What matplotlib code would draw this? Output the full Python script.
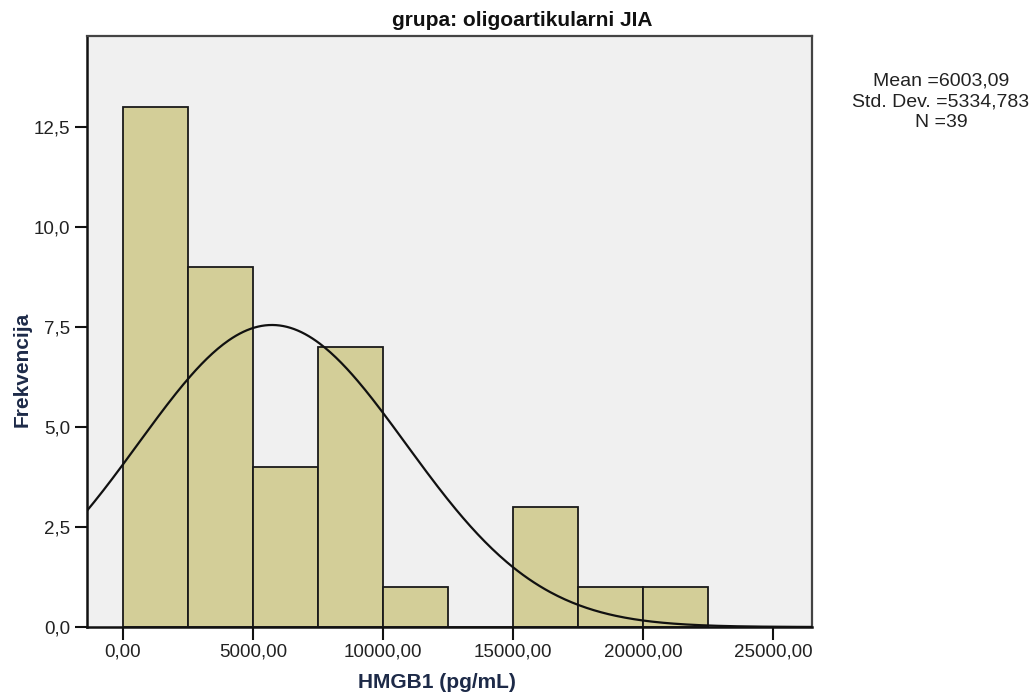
import numpy as np
import matplotlib
matplotlib.use("Agg")
import matplotlib.pyplot as plt

# histogram of HMGB1, bins of 2500
bin_edges = [0, 2500, 5000, 7500, 10000, 12500, 15000, 17500, 20000, 22500]
counts = [13, 9, 4, 7, 1, 0, 3, 1, 1]

# stats shown in the legend
mean_txt = "6003,09"
sd_txt = "5334,783"
n_obs = 39

# normal curve as drawn (centre / spread)
curve_mu = 5730
curve_sd = 5150

xticks = [0, 5000, 10000, 15000, 20000, 25000]
xtick_labels = ["0,00", "5000,00", "10000,00", "15000,00", "20000,00", "25000,00"]
yticks = [0, 2.5, 5, 7.5, 10, 12.5]
ytick_labels = ["0,0", "2,5", "5,0", "7,5", "10,0", "12,5"]

plt.rcParams['font.family'] = ['Liberation Sans', 'DejaVu Sans']

W, H = 1036, 700
fig = plt.figure(figsize=(W / 100, H / 100), dpi=100)
ax = fig.add_axes([87 / W, 1 - 627 / H, (812 - 87) / W, (627 - 36) / H])
ax.set_facecolor('#f0f0f0')

widths = np.diff(bin_edges)
ax.bar(bin_edges[:-1], counts, width=widths, align='edge',
       color='#d3ce98', edgecolor='#1a1a1a', linewidth=1.3, zorder=2)

xlo, xhi = -1385, 26500
xs = np.linspace(xlo, xhi, 400)
bw = bin_edges[1] - bin_edges[0]
ys = n_obs * bw / (curve_sd * np.sqrt(2 * np.pi)) * np.exp(-0.5 * ((xs - curve_mu) / curve_sd) ** 2)
ax.plot(xs, ys, color='#111111', lw=1.6, zorder=3)

ax.set_xlim(xlo, xhi)
ax.set_ylim(0, 14.78)
ax.set_xticks(xticks)
ax.set_xticklabels(xtick_labels)
ax.set_yticks(yticks)
ax.set_yticklabels(ytick_labels)
ax.tick_params(axis='both', length=9, width=1.5, color='#111111',
               labelsize=13.5, labelcolor='#222222', pad=3)

for side in ['left', 'bottom']:
    ax.spines[side].set_color('#111111')
    ax.spines[side].set_linewidth(1.8)
for side in ['top', 'right']:
    ax.spines[side].set_color('#444444')
    ax.spines[side].set_linewidth(1.6)

fig.text(522 / W, 1 - 21 / H, "grupa: oligoartikularni JIA", ha='center', va='center',
         fontsize=15, fontweight='bold', color='#111111')
fig.text(22 / W, 1 - 369 / H, "Frekvencija", rotation=90, ha='center', va='center',
         fontsize=15, fontweight='bold', color='#1d2a48')
fig.text(437 / W, 1 - 683 / H, "HMGB1 (pg/mL)", ha='center', va='center',
         fontsize=15, fontweight='bold', color='#1d2a48')

fig.text(941 / W, 1 - 102 / H,
         "Mean =%s\nStd. Dev. =%s\nN =%d" % (mean_txt, sd_txt, n_obs),
         ha='center', va='center', multialignment='center', linespacing=1.3,
         fontsize=14, color='#222222')

fig.savefig("out.png", dpi=100)
